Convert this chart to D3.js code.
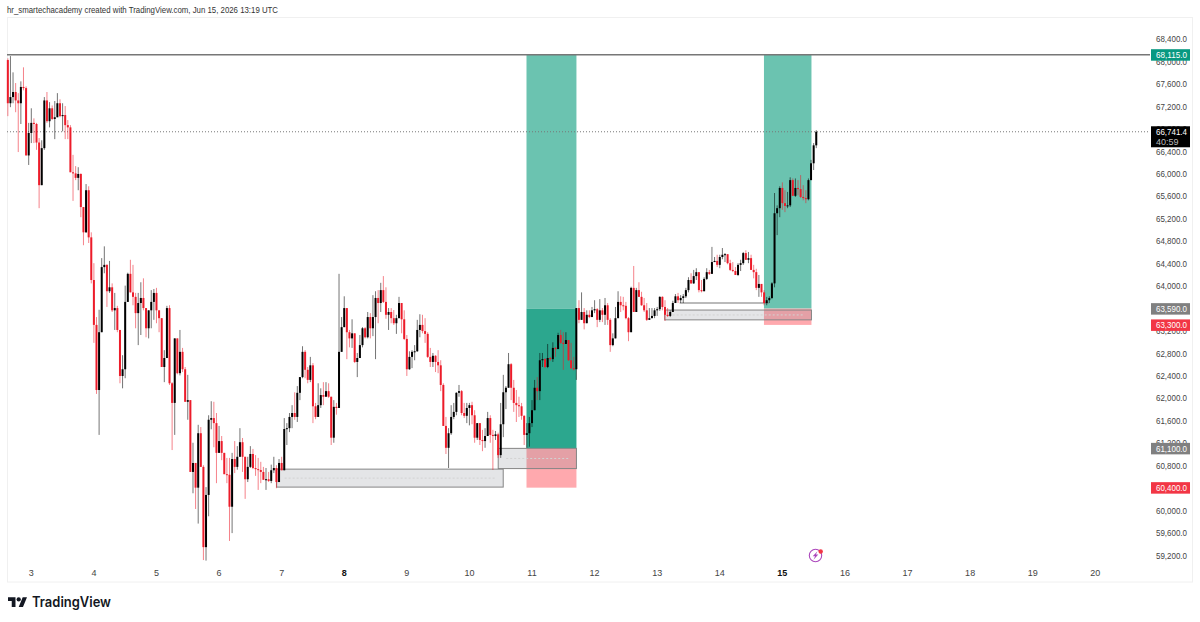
<!DOCTYPE html>
<html>
<head>
<meta charset="utf-8">
<script src="https://cdn.jsdelivr.net/npm/d3@7/dist/d3.min.js"></script>
<style>
html,body{margin:0;padding:0;background:#fff;}
svg{display:block;}
text{font-family:"Liberation Sans",Arial,sans-serif;}
</style>
</head>
<body>
<svg id="chart" width="1200" height="622"></svg>
<script>
// Hourly candles, oldest first. Each candle opens at the previous close.
const firstOpen = 68020;
const firstCandleDay = 2.625;
const closes = [
67250,67360,67450,67300,67250,67540,67520,66320,66720,66900,
66880,66550,65790,66450,67300,66930,67160,66970,67000,67250,
67020,67040,66860,66820,66020,66000,65920,65990,65400,64950,
65700,64860,64100,63300,62140,63170,64330,64370,63900,63970,
63560,63600,63210,62390,62510,63710,64210,63880,63800,63510,
63690,63780,63600,63240,63560,63710,63870,63560,63420,62550,
62710,63600,62260,61910,63060,62440,62820,62510,61930,61960,
60680,60840,60400,61370,60770,59340,60270,61610,61640,61550,
61020,61230,61020,60640,60630,60060,60910,60770,60950,61210,
60950,60550,60770,61000,60750,60730,60715,60680,60540,60550,
60520,60710,60750,60500,60840,60710,61445,61460,61660,61730,
61660,62090,62370,62820,62500,62320,62580,61850,61660,61870,
62050,62020,62120,62020,61290,61840,61820,62820,63260,63600,
63170,63060,63150,62640,62710,62940,63240,63080,63440,63240,
63440,63780,63690,63920,63710,63480,63530,63420,63330,63420,
63690,63400,63050,62510,62730,62820,62830,63210,63300,63190,
63140,62730,62640,62750,62640,62580,62230,61500,61110,61370,
61660,61750,62090,62120,61730,61680,61820,61870,61690,61290,
61550,61250,61230,61320,61640,61340,61320,61350,60980,61530,
62100,62180,62600,62180,61910,61870,61850,61680,61340,61370,
61550,61780,62180,62120,62670,62690,62550,62710,62690,62890,
62870,63120,62980,62960,63030,62670,62530,62510,63600,63390,
63530,63330,63480,63440,63560,63580,63390,63560,63480,63650,
63390,62940,63060,63420,63710,63650,63640,63420,63170,63960,
63530,63920,63800,63650,63560,63390,63420,63460,63560,63580,
63800,63620,63480,63460,63530,63690,63810,63740,63780,63810,
63920,64100,64040,64170,64240,63920,63900,64120,64240,64210,
64420,64440,64370,64510,64550,64560,64400,64280,64260,64190,
64370,64400,64580,64460,64490,64280,64240,63960,64030,63880,
63690,63740,63780,64040,65290,65380,65740,65470,65420,65430,
65880,65600,65740,65720,65580,65560,65540,65880,66180,66500,
66741.4
];
const highs = [
68050,68090,67800,67610,67430,67640,67890,67550,66900,67160,
66980,66900,66630,66590,67360,67450,67270,67210,67290,67430,
67320,67250,67200,66950,66860,66330,66130,66110,66000,65400,
65810,65770,64950,64400,63440,63570,64490,64700,64380,64440,
64040,63870,63640,63210,62760,64000,64230,64460,64370,63870,
63870,64060,64130,63600,63560,63920,63940,63960,63510,63420,
62850,63640,63650,62280,63060,63060,63210,62890,62550,62410,
61960,61200,60840,61520,61480,60800,60410,61690,61940,61930,
61730,61500,61320,60930,60930,60930,61020,61230,61140,61460,
61285,60950,60950,61140,61090,60980,60930,60860,60770,60750,
60680,60810,60950,60800,60910,60950,61640,61550,61730,61870,
62100,62210,62370,62920,62850,62550,62730,62620,61910,62260,
62170,62280,62280,62260,62020,61960,61910,64210,63440,63810,
63600,63210,63400,63120,62800,63120,63260,63260,63530,63510,
63830,63900,63920,64050,64170,63970,63600,63600,63565,63480,
63800,63670,63560,63120,62830,62850,62940,63390,63490,63480,
63420,63170,62890,62800,62760,62850,62670,62260,61660,61460,
61870,61910,62100,62230,62140,61910,61910,61910,61930,61780,
61550,61550,61430,61460,61750,61690,61430,61410,61380,61910,
62410,62210,62800,62620,62320,62140,62020,61910,61690,61550,
61660,61960,62320,62370,62800,62800,62710,62960,62730,62990,
62910,63160,63210,63170,63170,63030,62980,62730,63600,63740,
63880,63600,63560,63560,63620,63740,63600,63760,63600,63780,
63690,63420,63150,63620,63900,63810,63800,63710,63440,63980,
64350,63960,64060,63890,63780,63690,63600,63600,63600,63620,
63810,63810,63740,63600,63560,63730,63850,63870,63830,63850,
63960,64150,64220,64280,64310,64240,64100,64150,64310,64280,
64690,64510,64550,64550,64670,64580,64550,64460,64420,64330,
64400,64460,64600,64630,64600,64550,64370,64300,64190,63970,
63920,63800,63810,64060,65650,65430,65770,65840,65700,65670,
65930,65910,65910,65880,65970,65790,65700,65910,66240,66540,
66770
];
const lows = [
67020,67180,67250,67090,66380,66880,67480,66320,66150,66540,
66540,66420,65380,65790,66420,66900,66820,66950,66610,67000,
67000,66750,66610,66610,66020,65510,65880,65700,65220,64720,
64940,64760,64040,62980,62070,61340,63170,64220,63620,63870,
63530,63210,63170,62260,62170,62350,63710,63880,63650,63240,
62940,63120,63560,63080,63060,63240,63390,63330,63170,62550,
62280,62710,62230,61070,61340,62420,62400,62460,61930,61610,
60680,60300,60020,59760,60770,59110,59100,59890,61440,61120,
60480,61020,60890,60640,60480,59450,59590,60660,60720,60950,
60680,60200,60500,60750,60730,60610,60360,60480,60540,60360,
60500,60480,60660,60390,60500,60710,60710,61160,61390,61460,
61610,61570,61960,62350,62350,62260,62280,61550,61620,61660,
61820,61870,62050,62000,61160,61200,61700,61820,62820,63260,
62690,62900,62890,62620,62370,62710,62900,63060,63060,63060,
63100,62690,63330,63530,63690,63410,63210,63330,63300,63140,
63420,63150,63030,62390,62500,62530,62670,62820,63080,63150,
62980,62710,62550,62550,62460,62440,62120,61500,61000,60750,
61340,61620,61690,62020,61690,61640,61550,61510,61530,61200,
61250,61160,61050,61110,61370,61200,60715,61250,60930,60930,
61300,61800,62180,61960,61750,61570,61660,61610,61160,61110,
61130,61480,61780,61960,61960,62550,62530,62530,62660,62640,
62730,62870,62960,62500,62960,62660,62510,62490,62320,63330,
63390,63220,63330,63420,63440,63510,63260,63350,63350,63300,
63300,62820,62920,63060,63420,63530,63560,63400,63010,63190,
63530,63530,63800,63640,63530,63370,63400,63420,63420,63460,
63550,63560,63370,63440,63440,63530,63690,63690,63690,63690,
63780,63880,64030,64030,64100,63880,63880,63900,64100,64190,
64210,64420,64330,64310,64470,64420,64380,64260,64240,64190,
64170,64260,64370,64460,64400,64280,64130,63920,63800,63800,
63650,63650,63690,63760,63970,64900,65220,65350,65310,65380,
65400,65600,65580,65610,65560,65520,65470,65520,65880,66060,
66450
];

// Axis values
const priceTicks = [59200,59600,60000,60400,60800,61200,61600,62000,62400,62800,63200,63600,64000,64400,64800,65200,65600,66000,66400,66800,67200,67600,68000,68400];
const dayTicks = [3,4,5,6,7,8,9,10,11,12,13,14,15,16,17,18,19,20];
const weekStartDays = [8,15];

// Long position zones: day span and price bounds
const targetZones = [
  {from:10.912, to:11.71, top:68115, bottom:63590, fill:"#6bc3b0"},
  {from:10.912, to:11.71, top:63590, bottom:61100, fill:"#2ca78e"},
  {from:14.706, to:15.465, top:68115, bottom:63590, fill:"#6bc3b0"}
];
const stopZones = [
  {from:10.912, to:11.71, top:61100, bottom:60400},
  {from:14.706, to:15.465, top:63590, bottom:63300}
];
// Demand blocks
const blocks = [
  {from:6.92, to:10.54, top:60730, bottom:60410},
  {from:10.46, to:11.71, top:61100, bottom:60740},
  {from:13.12, to:15.465, top:63565, bottom:63390}
];
const swingLine = {from:13.36, to:14.78, price:63690};
const targetPrice = 68115;
const lastPrice = 66741.4;
const countdown = "40:59";
const priceTags = [
  {price:63590, text:"63,590.0", fill:"#808080"},
  {price:63300, text:"63,300.0", fill:"#f23645"},
  {price:61100, text:"61,100.0", fill:"#808080"},
  {price:60400, text:"60,400.0", fill:"#f23645"}
];

const headerText = "hr_smartechacademy created with TradingView.com, Jun 15, 2026 13:19 UTC";

const svg = d3.select("#chart");
const x = d3.scaleLinear().domain([3,20]).range([31.3,1095.3]);
const y = d3.scaleLinear().domain([59200,68400]).range([555,38.7]);
const plotLeft = 7, plotRight = 1150, tagLeft = 1151, tagWidth = 39;

const candles = closes.map((c,i)=>({
  day: firstCandleDay + i/24,
  open: i===0 ? firstOpen : closes[i-1],
  close: c,
  high: highs[i],
  low: lows[i]
}));

// Frame
svg.append("rect").attr("x",7.5).attr("y",17.5).attr("width",1185).attr("height",564.5)
  .attr("fill","none").attr("stroke","#f0f0f0");

svg.append("text").attr("x",7).attr("y",12.5).attr("font-size",9).attr("fill","#333")
  .attr("textLength",271).attr("lengthAdjust","spacingAndGlyphs").text(headerText);

// Position zones sit beneath the candles
const zoneRect = (sel,fill)=>sel.append("rect")
  .attr("x",d=>x(d.from)).attr("width",d=>x(d.to)-x(d.from))
  .attr("y",d=>y(d.top)).attr("height",d=>y(d.bottom)-y(d.top))
  .attr("fill",fill);
zoneRect(svg.append("g").selectAll("g").data(targetZones).join("g"),d=>d.fill);
zoneRect(svg.append("g").selectAll("g").data(stopZones).join("g"),"#ffa9ae");

// Demand blocks with a dotted midline
const blockG = svg.append("g").selectAll("g").data(blocks).join("g");
blockG.append("rect")
  .attr("x",d=>x(d.from)).attr("width",d=>x(d.to)-x(d.from))
  .attr("y",d=>y(d.top)).attr("height",d=>y(d.bottom)-y(d.top))
  .attr("fill","rgba(120,123,134,0.2)").attr("stroke","#858585").attr("stroke-width",1);
blockG.append("line")
  .attr("x1",d=>x(d.from)+8).attr("x2",d=>x(d.to)-8)
  .attr("y1",d=>y((d.top+d.bottom)/2)).attr("y2",d=>y((d.top+d.bottom)/2))
  .attr("stroke","#d2d2d2").attr("stroke-width",1).attr("stroke-dasharray","2 2");

svg.append("line")
  .attr("x1",x(swingLine.from)).attr("x2",x(swingLine.to))
  .attr("y1",y(swingLine.price)).attr("y2",y(swingLine.price))
  .attr("stroke","#777").attr("stroke-width",1.2);

// Target and last price lines
svg.append("line").attr("x1",plotLeft).attr("x2",plotRight)
  .attr("y1",y(targetPrice)).attr("y2",y(targetPrice))
  .attr("stroke","#777").attr("stroke-width",1.4);
svg.append("line").attr("x1",plotLeft).attr("x2",plotRight)
  .attr("y1",y(lastPrice)).attr("y2",y(lastPrice))
  .attr("stroke","#777").attr("stroke-width",1).attr("stroke-dasharray","1 2");

// Candles
const upColor = "#000000", downColor = "#ec1c2a";
const isUp = d=>d.close>=d.open;
const candleG = svg.append("g").selectAll("g").data(candles).join("g");
candleG.append("line")
  .attr("x1",d=>x(d.day)).attr("x2",d=>x(d.day))
  .attr("y1",d=>y(Math.max(d.high,d.open,d.close)))
  .attr("y2",d=>y(Math.min(d.low,d.open,d.close)))
  .attr("stroke",d=>isUp(d)?upColor:downColor)
  .attr("stroke-opacity",0.55).attr("stroke-width",1);
candleG.append("rect")
  .attr("x",d=>x(d.day)-1).attr("width",2)
  .attr("y",d=>y(Math.max(d.open,d.close)))
  .attr("height",d=>Math.max(1,Math.abs(y(d.open)-y(d.close))))
  .attr("fill",d=>isUp(d)?upColor:downColor);

// Price scale
const priceAxis = d3.axisRight(y).tickValues(priceTicks).tickSize(0).tickFormat(d3.format(",.1f"));
const priceG = svg.append("g").attr("transform","translate(1156,0)").call(priceAxis);
priceG.select(".domain").remove();
priceG.selectAll("text").attr("x",0).attr("dy","0.34em").attr("font-size",9)
  .attr("font-family",null).attr("fill","#444")
  .attr("textLength",31).attr("lengthAdjust","spacingAndGlyphs");

// Date scale
const dayAxis = d3.axisBottom(x).tickValues(dayTicks).tickSize(0).tickFormat(d3.format("d"));
const dayG = svg.append("g").attr("transform","translate(-0.5,570)").call(dayAxis);
dayG.select(".domain").remove();
dayG.selectAll("text").attr("y",0).attr("dy","0.71em").attr("font-size",9).attr("font-family",null)
  .attr("fill",d=>weekStartDays.includes(d)?"#111":"#444")
  .attr("font-weight",d=>weekStartDays.includes(d)?"bold":"normal");

// Price tags on the scale
const tagText = (g,text,cy,fill)=>g.append("text").attr("x",tagLeft+5).attr("y",cy).attr("dy","0.35em")
  .attr("font-size",9).attr("fill",fill)
  .attr("textLength",31).attr("lengthAdjust","spacingAndGlyphs").text(text);
const tags = svg.append("g");
priceTags.forEach(t=>{
  tags.append("rect").attr("x",tagLeft).attr("width",tagWidth)
    .attr("y",y(t.price)-5.5).attr("height",11.5).attr("fill",t.fill);
  tagText(tags,t.text,y(t.price),"#fff");
});
tags.append("rect").attr("x",tagLeft).attr("width",tagWidth)
  .attr("y",y(targetPrice)-5.5).attr("height",11.5).attr("fill","#089981");
tagText(tags,d3.format(",.1f")(targetPrice),y(targetPrice),"#fff");
tags.append("rect").attr("x",tagLeft).attr("width",tagWidth)
  .attr("y",y(lastPrice)-5.5).attr("height",21).attr("fill","#000");
tagText(tags,d3.format(",.1f")(lastPrice),y(lastPrice),"#fff");
tags.append("text").attr("x",tagLeft+5).attr("y",y(lastPrice)+10).attr("dy","0.35em")
  .attr("font-size",9).attr("fill","#bbb").text(countdown);

// Lightning badge on the date scale
const badge = svg.append("g").attr("transform","translate(815.5,555.5)");
badge.append("circle").attr("r",6.2).attr("fill","#fff").attr("stroke","#ab47bc").attr("stroke-width",1.1);
badge.append("path").attr("d","M2 -4.2 L-2.8 0.8 L-0.4 0.8 L-2 4.2 L2.8 -1 L0.4 -1 Z").attr("fill","#ab47bc");
badge.append("circle").attr("cx",5.2).attr("cy",-4).attr("r",2.2).attr("fill","#f23645");

// Logo mark and wordmark
svg.append("path").attr("transform","translate(8,595.2) scale(0.535)")
  .attr("d","M14 22H7V11H0V4h14v18zM28 22h-8l7.5-18h8L28 22z").attr("fill","#131722");
svg.append("circle").attr("transform","translate(8,595.2) scale(0.535)")
  .attr("cx",20).attr("cy",8).attr("r",4).attr("fill","#131722");
svg.append("text").attr("x",32).attr("y",606.8).attr("font-size",14).attr("font-weight",600)
  .style("font-family","Inter,Roboto,sans-serif").attr("fill","#131722")
  .attr("textLength",79).attr("lengthAdjust","spacingAndGlyphs").text("TradingView");
</script>
</body>
</html>
